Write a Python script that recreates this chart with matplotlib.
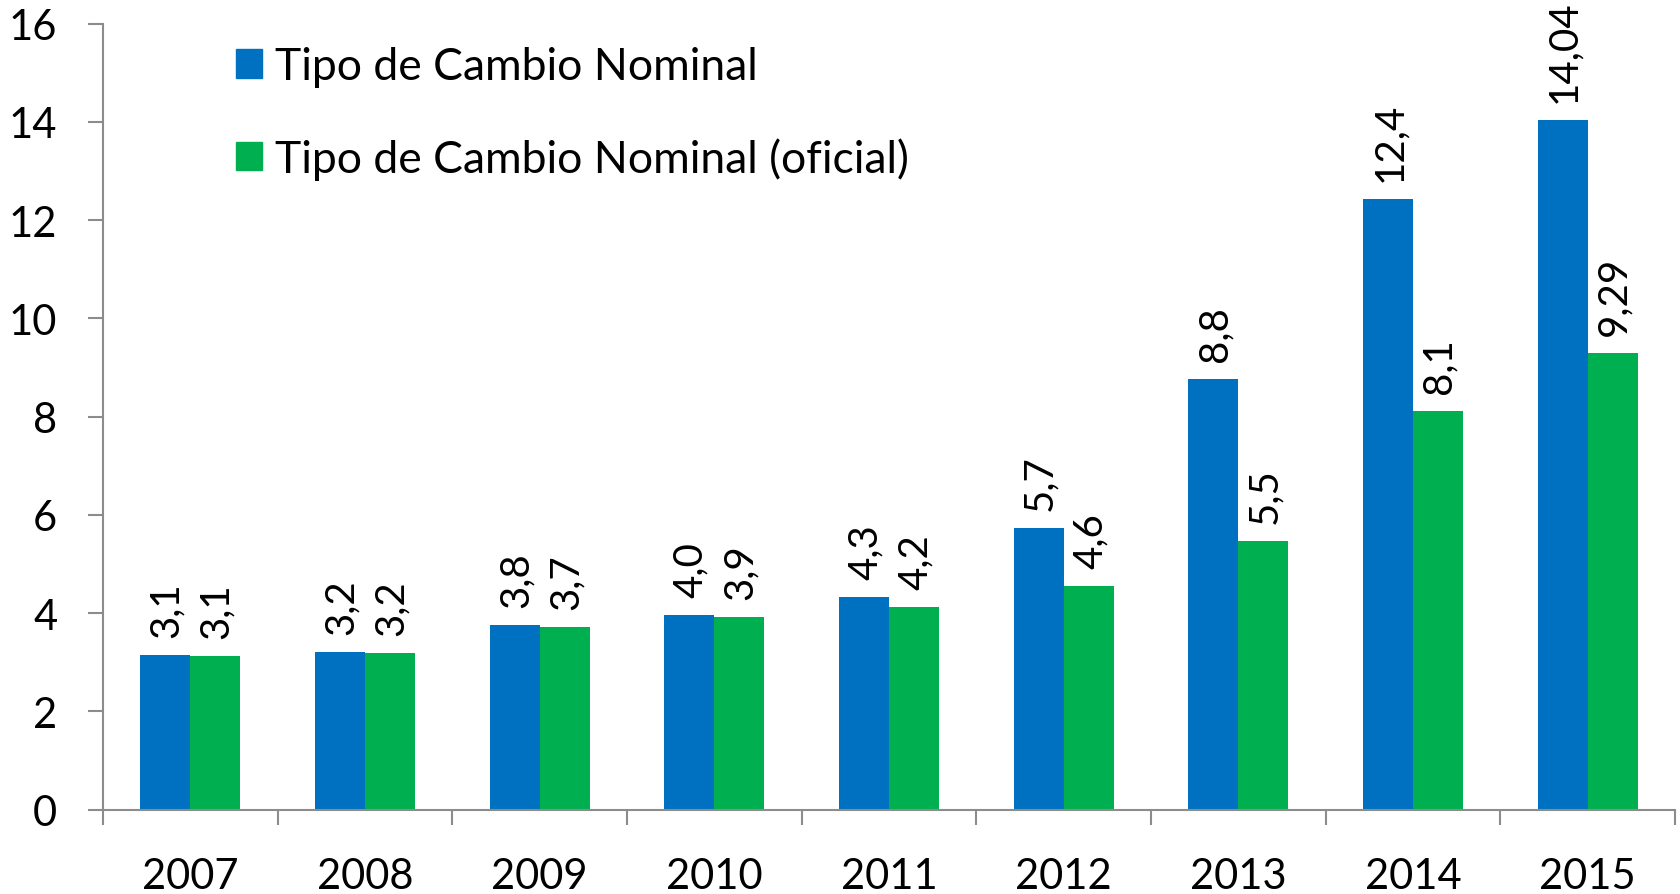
import matplotlib.pyplot as plt
import numpy as np
from matplotlib.patches import Patch

years = ['2007', '2008', '2009', '2010', '2011', '2012', '2013', '2014', '2015']
nominal = [3.14, 3.21, 3.76, 3.96, 4.33, 5.73, 8.76, 12.42, 14.04]
oficial = [3.13, 3.18, 3.72, 3.92, 4.13, 4.55, 5.47, 8.11, 9.29]
nominal_lbl = ['3,1', '3,2', '3,8', '4,0', '4,3', '5,7', '8,8', '12,4', '14,04']
oficial_lbl = ['3,1', '3,2', '3,7', '3,9', '4,2', '4,6', '5,5', '8,1', '9,29']

blue = '#0070C0'
green = '#00B050'
gray = '#8C8C8C'

plt.rcParams['font.family'] = ['Lato', 'DejaVu Sans']

fig = plt.figure(figsize=(16.8, 8.95), dpi=100)
ax = fig.add_axes([0.0613, 0.0942, 0.9357, 0.8784])

x = np.arange(len(years))
w = 0.286
b1 = ax.bar(x - w / 2, nominal, w, color=blue)
b2 = ax.bar(x + w / 2, oficial, w, color=green)

for bars, lbls in [(b1, nominal_lbl), (b2, oficial_lbl)]:
    for r, t in zip(bars, lbls):
        ax.annotate(t, (r.get_x() + r.get_width() / 2, r.get_height()),
                    xytext=(1, 13), textcoords='offset points',
                    rotation=90, ha='center', va='bottom', fontsize=29)

ax.set_xlim(-0.5, len(years) - 0.5)
ax.set_ylim(0, 16)
ax.set_yticks(range(0, 17, 2))
ax.set_xticks(x)
ax.set_xticklabels(years)
ax.set_xticks(np.arange(-0.5, len(years), 1), minor=True)

for s in ['top', 'right']:
    ax.spines[s].set_visible(False)
for s in ['left', 'bottom']:
    ax.spines[s].set_color(gray)
    ax.spines[s].set_linewidth(1.5)

ax.tick_params(axis='y', length=11, width=1.5, color=gray, labelsize=30, pad=22)
ax.tick_params(axis='x', which='major', length=0, labelsize=30, pad=34)
ax.tick_params(axis='x', which='minor', length=11, width=1.5, color=gray)

handles = [Patch(color=blue), Patch(color=green)]
ax.legend(handles, ['Tipo de Cambio Nominal', 'Tipo de Cambio Nominal (oficial)'],
          loc='upper left', bbox_to_anchor=(0.059, 1.022), frameon=False,
          fontsize=32, handlelength=0.6, handleheight=0.6, handletextpad=0.28,
          labelspacing=1.12)

plt.savefig('out.png')
plt.close()
